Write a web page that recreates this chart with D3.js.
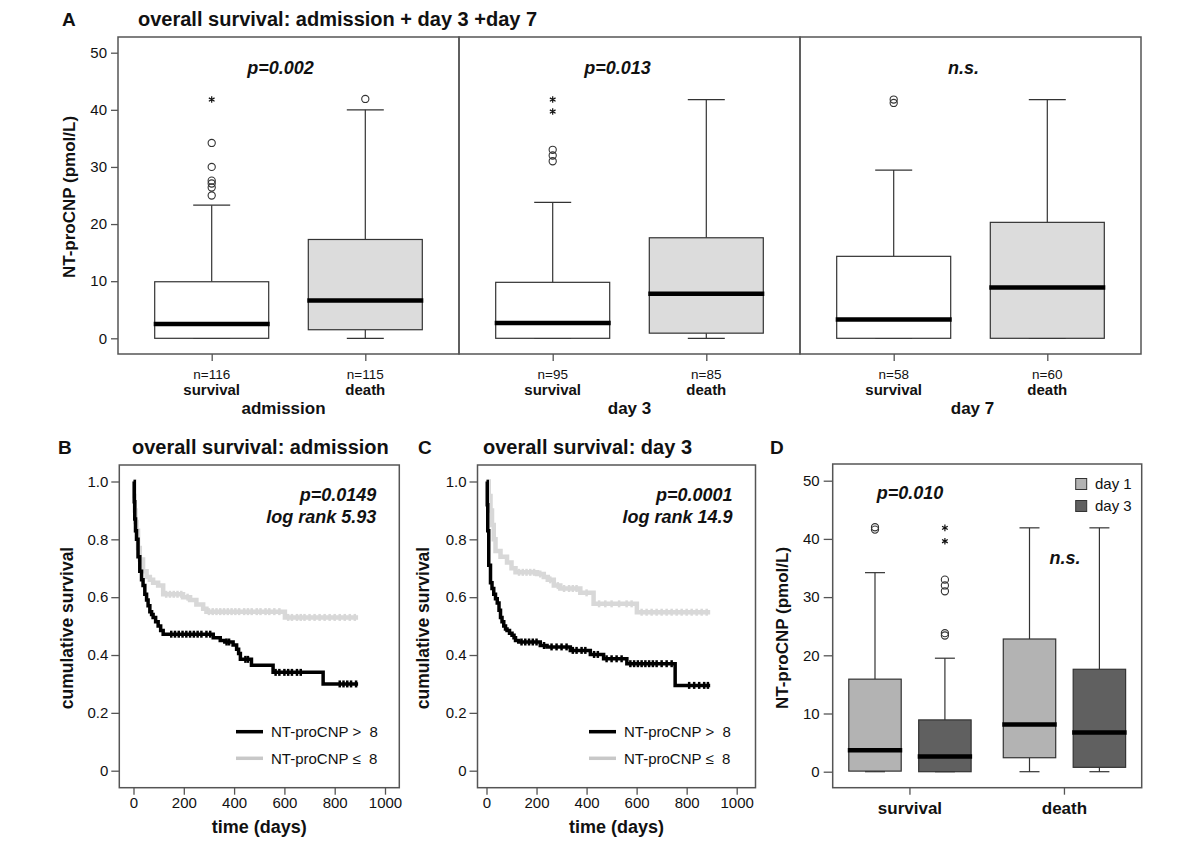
<!DOCTYPE html>
<html><head><meta charset="utf-8">
<script src="https://cdn.jsdelivr.net/npm/d3@7"></script>
<style>
body{margin:0;background:#fff}
svg{display:block;font-family:"Liberation Sans",Arial,sans-serif}
</style></head><body>
<div id="chart"></div>
<script>
// ---------- data ----------
// panel A: NT-proCNP by outcome at three time points
const aGroups = ['admission', 'day 3', 'day 7'];
const outcomes = ['survival', 'death'];
const aCounts = [[116, 115], [95, 85], [58, 60]];
const aPvals = ['p=0.002', 'p=0.013', 'n.s.'];
// [low whisker, q1, median, q3, high whisker]
const aSurvivalBoxes = [[0, 0, 2.5, 9.9, 23.3], [0, 0, 2.7, 9.8, 23.8], [0, 0, 3.3, 14.35, 29.45]];
const aDeathBoxes = [[0, 1.5, 6.6, 17.3, 40], [0, 0.9, 7.8, 17.6, 41.8], [0, 0, 8.9, 20.3, 41.8]];
const aSurvivalOutliers = [[25, 26.4, 27.1, 27.6, 30, 34.2], [31, 32, 33], [41.2, 41.8]];
const aSurvivalExtremes = [[41.8], [39.7, 41.8], []];
const aDeathOutliers = [[41.9], [], []];
const aDeathExtremes = [[], [], []];

// panel B / C: Kaplan-Meier, [day, cumulative survival]
const bHigh = [[0,1.0],[3,0.93],[5,0.87],[8,0.83],[12,0.80],[18,0.74],[25,0.69],[32,0.66],[38,0.64],[45,0.61],[52,0.59],[58,0.57],[65,0.55],[72,0.54],[78,0.53],[88,0.515],[98,0.50],[108,0.485],[118,0.472],[317,0.46],[345,0.45],[363,0.445],[396,0.435],[410,0.42],[418,0.405],[425,0.385],[469,0.365],[555,0.34],[754,0.30],[893,0.30]];
const bLow = [[0,1.0],[3,0.95],[5,0.90],[8,0.86],[12,0.83],[18,0.77],[25,0.73],[38,0.69],[52,0.67],[65,0.66],[78,0.65],[98,0.64],[118,0.61],[197,0.60],[225,0.59],[250,0.575],[277,0.56],[290,0.55],[602,0.53],[893,0.53]];
const bHighCensor = [150,165,180,195,210,225,240,255,270,290,305,370,380,445,455,565,580,600,615,630,650,665,820,835,850,865,885];
const bLowCensor = [130,145,160,175,190,215,300,315,330,345,360,375,390,405,420,440,455,470,490,505,525,540,560,580,615,630,650,665,680,700,720,740,760,780,800,820,840,860,880];
const cHigh = [[0,1.0],[3,0.92],[5,0.83],[9,0.71],[16,0.65],[22,0.63],[29,0.61],[36,0.595],[43,0.58],[50,0.555],[56,0.53],[62,0.515],[69,0.50],[76,0.49],[82,0.485],[92,0.475],[102,0.468],[110,0.46],[116,0.45],[129,0.445],[215,0.433],[242,0.428],[335,0.416],[415,0.402],[468,0.387],[561,0.37],[754,0.295],[894,0.295]];
const cLow = [[0,1.0],[9,0.95],[16,0.90],[22,0.85],[29,0.80],[36,0.76],[56,0.74],[82,0.72],[100,0.70],[116,0.686],[202,0.68],[229,0.67],[245,0.66],[269,0.64],[295,0.63],[375,0.615],[428,0.577],[601,0.548],[894,0.548]];
const cHighCensor = [140,155,170,185,200,230,260,280,300,320,345,360,380,395,430,445,480,500,520,540,575,590,605,620,635,650,665,680,700,720,740,810,830,850,870,885];
const cLowCensor = [130,145,160,175,190,215,255,285,310,330,345,360,400,450,475,500,530,560,580,620,640,660,680,700,720,740,760,780,800,820,840,860,880];
const kmTicks = [0, 200, 400, 600, 800, 1000];
const kmYTicks = [0, 0.2, 0.4, 0.6, 0.8, 1.0];
const kmLegend = ['NT-proCNP >\u00a0\u00a08', 'NT-proCNP \u2264\u00a0\u00a08'];

// panel D: day 1 vs day 3 within outcome
const dGroups = ['survival', 'death'];
const dDays = ['day 1', 'day 3'];
const dDay1Boxes = [[0, 0.1, 3.7, 15.9, 34.2], [0, 2.4, 8.1, 22.8, 41.9]];
const dDay3Boxes = [[0, 0, 2.6, 8.9, 19.5], [0, 0.75, 6.75, 17.6, 41.9]];
const dDay1Outliers = [[41.6, 42.0], []];
const dDay3Outliers = [[23.4, 23.8, 31, 32, 33], []];
const dDay3Extremes = [[39.6, 41.9], []];
const boxTicks = [0, 10, 20, 30, 40, 50];

// ---------- drawing ----------
const W = 1200, H = 849;
const frameColor = '#555', lineColor = '#333';
const svg = d3.select('#chart').append('svg').attr('width', W).attr('height', H);

function frame(x0, y0, x1, y1) {
  svg.append('rect').attr('x', x0).attr('y', y0).attr('width', x1 - x0).attr('height', y1 - y0)
    .attr('fill', 'none').attr('stroke', frameColor).attr('stroke-width', 1.5);
}
function styleAxis(g) {
  g.select('.domain').remove();
  g.selectAll('line').attr('stroke', frameColor).attr('stroke-width', 1.3);
  g.selectAll('text').attr('fill', '#111').style('font-size', '15px')
    .style('font-family', '"Liberation Sans",Arial,sans-serif');
}
function label(x, y, txt, size, weight, opts = {}) {
  const t = svg.append('text').attr('x', x).attr('y', y).attr('dy', '0.35em')
    .attr('text-anchor', opts.anchor || 'middle').style('font-size', size + 'px')
    .style('font-weight', weight || 'normal').style('font-style', opts.italic ? 'italic' : 'normal')
    .attr('fill', '#111').text(txt);
  if (opts.rotate) t.attr('transform', `rotate(-90,${x},${y})`);
  return t;
}
function drawBox(y, cx, stats, bw, capW, fill, outl, extr) {
  const [lo, q1, med, q3, hi] = stats;
  const g = svg.append('g');
  g.append('line').attr('x1', cx).attr('x2', cx).attr('y1', y(hi)).attr('y2', y(q3)).attr('stroke', lineColor).attr('stroke-width', 1.2);
  g.append('line').attr('x1', cx).attr('x2', cx).attr('y1', y(q1)).attr('y2', y(lo)).attr('stroke', lineColor).attr('stroke-width', 1.2);
  [lo, hi].forEach(v => g.append('line').attr('x1', cx - capW / 2).attr('x2', cx + capW / 2)
    .attr('y1', y(v)).attr('y2', y(v)).attr('stroke', lineColor).attr('stroke-width', 1.2));
  g.append('rect').attr('x', cx - bw / 2).attr('width', bw).attr('y', y(q3)).attr('height', y(q1) - y(q3))
    .attr('fill', fill).attr('stroke', lineColor).attr('stroke-width', 1.2);
  g.append('line').attr('x1', cx - bw / 2 - 1).attr('x2', cx + bw / 2 + 1).attr('y1', y(med)).attr('y2', y(med))
    .attr('stroke', '#000').attr('stroke-width', 4.5);
  g.selectAll('circle.o').data(outl || []).enter().append('circle')
    .attr('cx', cx).attr('cy', d => y(d)).attr('r', 3.6)
    .attr('fill', 'none').attr('stroke', lineColor).attr('stroke-width', 1.1);
  g.selectAll('path.e').data(extr || []).enter().append('path')
    .attr('d', d3.symbol(d3.symbolAsterisk, 30))
    .attr('transform', d => `translate(${cx},${y(d)})`)
    .attr('stroke', '#111').attr('stroke-width', 1.2).attr('fill', 'none');
}

// ----- panel A -----
const aTop = 37, aBottom = 354;
const aY = d3.scaleLinear().domain([0, 50]).range([338.3, 52.7]);
const aPanels = d3.scaleBand().domain(aGroups).range([118, 1141]);
const aInner = d3.scalePoint().domain(outcomes).range([0, aPanels.bandwidth()]).padding(0.61);
const aLabelShift = [-5, 0, 2];
const aPShift = [-8, -12, -7];

label(62, 19, 'A', 19, 'bold', { anchor: 'start' });
label(138, 19, 'overall survival: admission + day 3 +day 7', 20, 'bold', { anchor: 'start' });

aGroups.forEach((grp, i) => {
  const x0 = aPanels(grp);
  frame(x0, aTop, x0 + aPanels.bandwidth(), aBottom);
  const xs = outcomes.map(o => x0 + aInner(o));
  drawBox(aY, xs[0], aSurvivalBoxes[i], 114, 37, '#fff', aSurvivalOutliers[i], aSurvivalExtremes[i]);
  drawBox(aY, xs[1], aDeathBoxes[i], 114, 37, '#dcdcdc', aDeathOutliers[i], aDeathExtremes[i]);
  const ax = svg.append('g').attr('transform', `translate(${x0},${aBottom})`)
    .call(d3.axisBottom(aInner).tickSize(7).tickFormat(''));
  styleAxis(ax);
  outcomes.forEach((o, j) => {
    label(xs[j], 374, 'n=' + aCounts[i][j], 13.5, 'normal');
    label(xs[j], 390, o, 15, 'bold');
  });
  label(x0 + aPanels.bandwidth() / 2 + aLabelShift[i], 408, grp, 17, 'bold');
  label(x0 + aPanels.bandwidth() / 2 + aPShift[i], 68, aPvals[i], 18, 'bold', { italic: true });
});
styleAxis(svg.append('g').attr('transform', 'translate(118,0)')
  .call(d3.axisLeft(aY).tickValues(boxTicks).tickSize(7).tickPadding(4)));
label(69, 197, 'NT-proCNP (pmol/L)', 17, 'bold', { rotate: true });

// ----- panels B and C -----
const kmPanels = [
  { letter: 'B', title: 'overall survival: admission', high: bHigh, low: bLow, hc: bHighCensor, lc: bLowCensor,
    p: 'p=0.0149', lr: 'log rank 5.93', fx0: 119.3, fx1: 399.3, x0: 133.5, x1: 385, letterX: 58, titleX: 132, ylabX: 67, legX: 236 },
  { letter: 'C', title: 'overall survival: day 3', high: cHigh, low: cLow, hc: cHighCensor, lc: cLowCensor,
    p: 'p=0.0001', lr: 'log rank 14.9', fx0: 477.5, fx1: 755.5, x0: 486.5, x1: 736.7, letterX: 418, titleX: 483, ylabX: 423, legX: 589 }
];
const kmTop = 465, kmBottom = 787.7;
const kmY = d3.scaleLinear().domain([0, 1]).range([770.7, 481.5]);
const survAt = (data, t) => { let v = data[0][1]; data.forEach(d => { if (d[0] <= t) v = d[1]; }); return v; };

kmPanels.forEach(P => {
  const x = d3.scaleLinear().domain([0, 1000]).range([P.x0, P.x1]);
  frame(P.fx0, kmTop, P.fx1, kmBottom);
  label(P.letterX, 447, P.letter, 19, 'bold', { anchor: 'start' });
  label(P.titleX, 447, P.title, 20, 'bold', { anchor: 'start' });
  styleAxis(svg.append('g').attr('transform', `translate(${P.fx0},0)`)
    .call(d3.axisLeft(kmY).tickValues(kmYTicks).tickSize(8).tickPadding(3)
      .tickFormat(d => d === 0 ? '0' : d3.format('.1f')(d))));
  styleAxis(svg.append('g').attr('transform', `translate(0,${kmBottom})`)
    .call(d3.axisBottom(x).tickValues(kmTicks).tickSize(7).tickPadding(3).tickFormat(d3.format('d'))));
  label(P.ylabX, 628, 'cumulative survival', 17.5, 'bold', { rotate: true });
  label((P.fx0 + P.fx1) / 2, 827, 'time (days)', 18, 'bold');

  const line = d3.line().x(d => x(d[0])).y(d => kmY(d[1])).curve(d3.curveStepAfter);
  [[P.low, P.lc, '#d8d8d8', 4.5], [P.high, P.hc, '#000', 3.5]].forEach(([data, cens, col, sw]) => {
    svg.append('path').datum(data).attr('d', line).attr('fill', 'none')
      .attr('stroke', col).attr('stroke-width', sw);
    svg.append('g').selectAll('line').data(cens).enter().append('line')
      .attr('x1', d => x(d)).attr('x2', d => x(d))
      .attr('y1', d => kmY(survAt(data, d)) - 3.5).attr('y2', d => kmY(survAt(data, d)) + 3.5)
      .attr('stroke', col).attr('stroke-width', 2.5);
  });
  label(P.fx1 - 23, 495, P.p, 18, 'bold', { anchor: 'end', italic: true });
  label(P.fx1 - 23, 517, P.lr, 18, 'bold', { anchor: 'end', italic: true });
  [['#000', 731.7], ['#c8c8c8', 758.3]].forEach(([col, ly], i) => {
    svg.append('line').attr('x1', P.legX).attr('x2', P.legX + 27).attr('y1', ly).attr('y2', ly)
      .attr('stroke', col).attr('stroke-width', 3.5);
    label(P.legX + 35, ly, kmLegend[i], 15, 'normal', { anchor: 'start' });
  });
});

// ----- panel D -----
const dTop = 464, dBottom = 787.7, dLeft = 832.7, dRight = 1141.7;
const dY = d3.scaleLinear().domain([0, 50]).range([771.7, 480.7]);
const dX = d3.scaleBand().domain(dGroups).range([dLeft, dRight]);
const dSub = d3.scaleBand().domain(dDays).range([0, dX.bandwidth()]).paddingInner(0.25).paddingOuter(0.23);
const dFill = ['#b3b3b3', '#606060'];

frame(dLeft, dTop, dRight, dBottom);
label(770, 447, 'D', 19, 'bold', { anchor: 'start' });
dGroups.forEach((grp, i) => {
  const x0 = dX(grp);
  drawBox(dY, x0 + dSub('day 1') + dSub.bandwidth() / 2, dDay1Boxes[i], dSub.bandwidth(), 20, dFill[0], dDay1Outliers[i], []);
  drawBox(dY, x0 + dSub('day 3') + dSub.bandwidth() / 2, dDay3Boxes[i], dSub.bandwidth(), 20, dFill[1], dDay3Outliers[i], dDay3Extremes[i]);
  label(x0 + dX.bandwidth() / 2, 808, grp, 17, 'bold');
});
styleAxis(svg.append('g').attr('transform', `translate(${dLeft},0)`)
  .call(d3.axisLeft(dY).tickValues(boxTicks).tickSize(9).tickPadding(4)));
styleAxis(svg.append('g').attr('transform', `translate(0,${dBottom})`)
  .call(d3.axisBottom(dX).tickSize(7).tickFormat('')));
label(782, 628, 'NT-proCNP (pmol/L)', 17, 'bold', { rotate: true });
label(910, 493, 'p=0.010', 18, 'bold', { italic: true });
label(1065, 558, 'n.s.', 18, 'bold', { italic: true });
dDays.forEach((d, i) => {
  const ly = 484 + i * 22;
  svg.append('rect').attr('x', 1075.7).attr('y', ly - 5.5).attr('width', 11).attr('height', 11)
    .attr('fill', dFill[i]).attr('stroke', lineColor).attr('stroke-width', 1);
  label(1095, ly, d, 15, 'normal', { anchor: 'start' });
});
</script>
</body></html>
